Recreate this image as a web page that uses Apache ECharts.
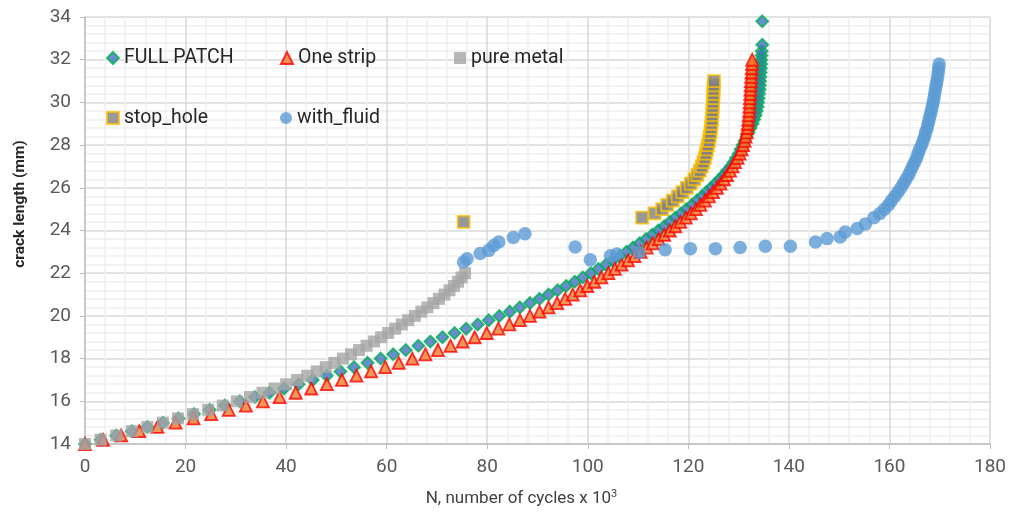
<!DOCTYPE html>
<html>
<head>
<meta charset="utf-8">
<script src="https://cdn.jsdelivr.net/npm/echarts@6/dist/echarts.min.js"></script>
<style>
html,body{margin:0;padding:0;background:#fff;}
#chart{width:1013px;height:521px;}
</style>
</head>
<body>
<div id="chart"></div>
<script>
// Axis ticks
const xTicks = [0, 20, 40, 60, 80, 100, 120, 140, 160, 180];
const yTicks = [14, 16, 18, 20, 22, 24, 26, 28, 30, 32, 34];
const seriesNames = ['FULL PATCH', 'One strip', 'pure metal', 'stop_hole', 'with_fluid'];

// FULL PATCH: N (x10^3 cycles) and crack length (mm)
const fullPatchN = [0,3.1,6.2,9.3,12.4,15.5,18.6,21.7,24.8,27.8,
  30.8,33.8,36.7,39.6,42.5,45.3,48.1,50.8,53.5,56.2,
  58.8,61.3,63.8,66.3,68.7,71.1,73.5,75.8,78.1,80.3,
  82.4,84.5,86.5,88.5,90.4,92.2,94.0,95.7,97.4,99.0,
  100.6,102.1,103.6,105.0,106.4,107.7,109.0,110.3,111.6,112.8,
  114.0,115.2,116.3,117.4,118.5,119.6,120.7,121.7,122.7,123.6,
  124.5,125.4,126.2,127.0,127.7,128.4,129.0,129.5,130.0,130.4,
  130.8,131.2,131.6,132.0,132.4,132.8,133.1,133.4,133.6,133.8,
  133.9,134.0,134.1,134.2,134.25,134.3,134.35,134.4,134.45,134.5,
  134.5,134.55,134.6,134.7,134.7];
const fullPatchL = [14.0,14.2,14.4,14.6,14.8,15.0,15.2,15.4,15.6,15.8,
  16.0,16.2,16.4,16.6,16.8,17.0,17.2,17.4,17.6,17.8,
  18.0,18.2,18.4,18.6,18.8,19.0,19.2,19.4,19.6,19.8,
  20.0,20.2,20.4,20.6,20.8,21.0,21.2,21.4,21.6,21.8,
  22.0,22.2,22.4,22.6,22.8,23.0,23.2,23.4,23.6,23.8,
  24.0,24.2,24.4,24.6,24.8,25.0,25.2,25.4,25.6,25.8,
  26.0,26.2,26.4,26.6,26.8,27.0,27.2,27.4,27.6,27.8,
  28.0,28.2,28.4,28.6,28.8,29.0,29.2,29.4,29.6,29.8,
  30.0,30.2,30.4,30.6,30.8,31.0,31.2,31.4,31.6,31.8,
  32.0,32.2,32.4,32.7,33.8];

// One strip
const oneStripN = [0,3.6,7.2,10.8,14.4,18.0,21.6,25.1,28.6,32.0,
  35.4,38.7,41.9,45.0,48.1,51.1,54.0,56.9,59.7,62.4,
  65.1,67.7,70.2,72.7,75.1,77.5,79.9,82.2,84.4,86.5,
  88.5,90.4,92.2,93.9,95.5,97.0,98.5,99.9,101.3,102.7,
  104.1,105.4,106.7,108.0,109.3,110.5,111.7,112.9,114.1,115.2,
  116.3,117.4,118.4,119.5,120.5,121.5,122.4,123.3,124.1,124.9,
  125.7,126.4,127.1,127.7,128.3,128.8,129.3,129.8,130.2,130.6,
  130.9,131.2,131.4,131.6,131.7,131.8,131.9,132.0,132.1,132.15,
  132.2,132.25,132.3,132.35,132.4,132.45,132.5,132.55,132.6,132.65,132.7];
const oneStripL = [14.0,14.2,14.4,14.6,14.8,15.0,15.2,15.4,15.6,15.8,
  16.0,16.2,16.4,16.6,16.8,17.0,17.2,17.4,17.6,17.8,
  18.0,18.2,18.4,18.6,18.8,19.0,19.2,19.4,19.6,19.8,
  20.0,20.2,20.4,20.6,20.8,21.0,21.2,21.4,21.6,21.8,
  22.0,22.2,22.4,22.6,22.8,23.0,23.2,23.4,23.6,23.8,
  24.0,24.2,24.4,24.6,24.8,25.0,25.2,25.4,25.6,25.8,
  26.0,26.2,26.4,26.6,26.8,27.0,27.2,27.4,27.6,27.8,
  28.0,28.2,28.4,28.6,28.8,29.0,29.2,29.4,29.6,29.8,
  30.0,30.2,30.4,30.6,30.8,31.0,31.2,31.4,31.6,31.8,32.0];

// pure metal
const pureMetalN = [0,3.1,6.2,9.3,12.4,15.5,18.5,21.5,24.5,27.4,
  30.2,32.8,35.3,37.7,40.0,42.2,44.2,46.1,47.9,49.6,
  51.3,52.9,54.5,56.0,57.5,58.9,60.3,61.7,63.0,64.3,
  65.6,66.9,68.1,69.3,70.4,71.5,72.5,73.4,74.2,74.9,75.6];
const pureMetalL = [14.0,14.2,14.4,14.6,14.8,15.0,15.2,15.4,15.6,15.8,
  16.0,16.2,16.4,16.6,16.8,17.0,17.2,17.4,17.6,17.8,
  18.0,18.2,18.4,18.6,18.8,19.0,19.2,19.4,19.6,19.8,
  20.0,20.2,20.4,20.6,20.8,21.0,21.2,21.4,21.6,21.8,22.0];

// stop_hole
const stopHoleN = [75.3,
  110.8,113.3,114.8,115.8,116.9,117.9,118.8,119.7,120.5,121.2,
  121.8,122.3,122.7,123.0,123.3,123.5,123.7,123.9,124.1,124.25,
  124.4,124.5,124.6,124.7,124.75,124.8,124.85,124.9,124.95,125.0,
  125.0,125.05,125.1];
const stopHoleL = [24.4,
  24.6,24.8,25.0,25.2,25.4,25.6,25.8,26.0,26.2,26.4,
  26.6,26.8,27.0,27.2,27.4,27.6,27.8,28.0,28.2,28.4,
  28.6,28.8,29.0,29.2,29.4,29.6,29.8,30.0,30.2,30.4,
  30.6,30.8,31.0];

// with_fluid
const withFluidN = [75.3,76.0,78.6,80.3,81.3,82.3,85.2,87.5,97.5,100.5,
  104.5,105.8,110.2,115.4,120.4,125.4,130.3,135.3,140.3,145.3,
  147.6,150.2,151.2,153.6,155.2,
  156.9,158.1,159.0,159.8,160.4,161.1,161.7,162.3,162.8,163.3,
  163.8,164.2,164.6,165.0,165.4,165.7,166.0,166.4,166.7,167.0,
  167.2,167.5,167.7,167.9,168.1,168.3,168.5,168.7,168.85,169.0,
  169.15,169.3,169.45,169.6,169.7,169.8,169.9];
const withFluidL = [22.52,22.68,22.92,23.07,23.3,23.46,23.67,23.85,23.23,22.63,
  22.82,22.9,22.97,23.1,23.15,23.15,23.2,23.26,23.26,23.46,
  23.62,23.7,23.93,24.09,24.3,
  24.6,24.8,25.0,25.2,25.4,25.6,25.8,26.0,26.2,26.4,
  26.6,26.8,27.0,27.2,27.4,27.6,27.8,28.0,28.2,28.4,
  28.6,28.8,29.0,29.2,29.4,29.6,29.8,30.0,30.2,30.4,
  30.6,30.8,31.0,31.2,31.4,31.6,31.8];

function zip(xs, ys) { return xs.map((x, i) => [x, ys[i]]); }

const FONT = 'Roboto, "Liberation Sans", sans-serif';
const chart = echarts.init(document.getElementById('chart'), null, {renderer: 'canvas'});

function legendAt(name, left, top) {
  return {
    data: [name], left: left, top: top, padding: 0,
    itemWidth: 12, itemHeight: 12, itemGap: 5,
    textStyle: {fontFamily: FONT, fontSize: 19.5, color: '#262626'}
  };
}

const option = {
  animation: false,
  backgroundColor: '#ffffff',
  grid: {left: 85, right: 23, top: 17, bottom: 77, containLabel: false},
  legend: [
    legendAt(seriesNames[0], 106, 48),
    legendAt(seriesNames[1], 280, 48),
    legendAt(seriesNames[2], 454, 48),
    legendAt(seriesNames[3], 106, 108),
    legendAt(seriesNames[4], 280, 108)
  ],
  graphic: [{
    type: 'text',
    rotation: Math.PI / 2,
    x: 20, y: 204,
    style: {text: 'crack length (mm)', fontFamily: FONT, fontSize: 15.5, fontWeight: 'bold',
      fill: '#262626', textAlign: 'center', textVerticalAlign: 'middle'}
  }],
  xAxis: {
    type: 'value', min: xTicks[0], max: xTicks[xTicks.length - 1], interval: 20,
    name: 'N, number of cycles x 10{sup|3}',
    nameLocation: 'middle', nameGap: 45,
    nameTextStyle: {fontFamily: FONT, fontSize: 17, color: '#404040', padding: [0, 32, 0, 0],
      rich: {sup: {fontFamily: FONT, fontSize: 11, color: '#404040', verticalAlign: 'top', padding: [0,0,8,0]}}},
    axisLine: {show: true, onZero: false, lineStyle: {color: '#bfbfbf', width: 1.5}},
    axisTick: {show: true, length: 5, lineStyle: {color: '#bfbfbf'}},
    axisLabel: {fontFamily: FONT, fontSize: 19, color: '#595959', margin: 14},
    splitLine: {show: true, lineStyle: {color: '#d9d9d9', width: 1.5}},
    minorTick: {show: false, splitNumber: 5},
    minorSplitLine: {show: true, lineStyle: {color: '#f0f0f0', width: 1.5}}
  },
  yAxis: {
    type: 'value', min: yTicks[0], max: yTicks[yTicks.length - 1], interval: 2,
    axisLine: {show: true, onZero: false, lineStyle: {color: '#bfbfbf', width: 1.5}},
    axisTick: {show: true, length: 5, lineStyle: {color: '#bfbfbf'}},
    axisLabel: {fontFamily: FONT, fontSize: 19, color: '#595959', margin: 14},
    splitLine: {show: true, lineStyle: {color: '#d9d9d9', width: 1.5}},
    minorTick: {show: false, splitNumber: 5},
    minorSplitLine: {show: true, lineStyle: {color: '#f0f0f0', width: 1.5}}
  },
  series: [
    {name: seriesNames[0], type: 'scatter', symbol: 'diamond', symbolSize: 12,
     data: zip(fullPatchN, fullPatchL),
     itemStyle: {color: '#4472C4', borderColor: '#00B050', borderWidth: 1.8}},
    {name: seriesNames[1], type: 'scatter', symbol: 'triangle', symbolSize: 12,
     data: zip(oneStripN, oneStripL),
     itemStyle: {color: '#ED7D31', borderColor: '#FF0000', borderWidth: 1.8}},
    {name: seriesNames[2], type: 'scatter', symbol: 'rect', symbolSize: 12,
     data: zip(pureMetalN, pureMetalL),
     itemStyle: {color: '#A5A5A5', borderColor: '#A5A5A5', borderWidth: 0}},
    {name: seriesNames[3], type: 'scatter', symbol: 'rect', symbolSize: 12,
     data: zip(stopHoleN, stopHoleL),
     itemStyle: {color: '#7F7F7F', borderColor: '#FFC000', borderWidth: 1.8}},
    {name: seriesNames[4], type: 'scatter', symbol: 'circle', symbolSize: 13.5,
     data: zip(withFluidN, withFluidL),
     itemStyle: {color: '#5B9BD5', borderColor: '#5B9BD5', borderWidth: 0}}
  ]
};
chart.setOption(option);
</script>
</body>
</html>
